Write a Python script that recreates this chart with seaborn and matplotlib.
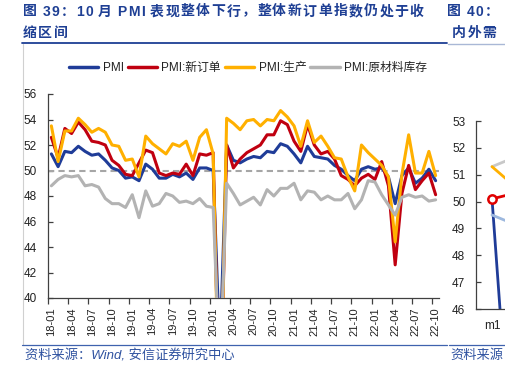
import matplotlib
matplotlib.use("Agg")
import matplotlib.pyplot as plt
from matplotlib.lines import Line2D
import seaborn as sns
import pandas as pd
import numpy as np

# ---------------- data ----------------
months = [f"{y:02d}-{m:02d}" for y in range(18, 23) for m in range(1, 13)][:58]

pmi = [51.3, 50.3, 51.5, 51.4, 51.9, 51.5, 51.2, 51.3, 50.8, 50.2, 50.0, 49.4,
       49.5, 49.2, 50.5, 50.1, 49.4, 49.4, 49.7, 49.5, 49.8, 49.3, 50.2, 50.2,
       50.0, 35.7, 52.0, 50.8, 50.6, 50.9, 51.1, 51.0, 51.5, 51.4, 52.1, 51.9,
       51.3, 50.6, 51.9, 51.1, 51.0, 50.9, 50.4, 50.1, 49.6, 49.2, 50.1, 50.3,
       50.1, 50.2, 49.5, 47.4, 49.6, 50.2, 49.0, 49.4, 50.1, 49.2]
new_orders = [52.6, 51.0, 53.3, 52.9, 53.8, 53.2, 52.3, 52.2, 52.0, 50.8, 50.4, 49.7,
              49.6, 50.6, 51.6, 51.4, 49.8, 49.6, 49.8, 49.7, 50.5, 49.6, 51.3, 51.2,
              51.4, 29.3, 52.0, 50.2, 50.9, 51.4, 51.7, 52.0, 52.8, 52.8, 53.9, 53.6,
              52.3, 51.5, 53.6, 52.0, 51.3, 51.5, 50.9, 49.6, 49.3, 48.8, 49.4, 49.7,
              49.3, 50.7, 48.8, 42.6, 48.2, 50.4, 48.5, 49.2, 49.8, 48.1]
production = [53.5, 50.7, 53.1, 53.1, 54.1, 53.6, 53.0, 53.3, 53.0, 52.0, 51.9, 50.8,
              50.9, 49.5, 52.7, 52.1, 51.7, 51.3, 52.1, 51.9, 52.3, 50.8, 52.6, 53.2,
              51.3, 27.8, 54.1, 53.7, 53.2, 53.9, 54.0, 53.5, 54.0, 53.9, 54.7, 54.2,
              53.5, 51.9, 53.9, 52.2, 52.7, 51.9, 51.0, 50.9, 49.5, 48.4, 52.0, 51.4,
              50.9, 50.4, 49.5, 44.4, 49.7, 52.8, 49.8, 49.8, 51.5, 49.6]
raw_inventory = [48.8, 49.3, 49.6, 49.5, 49.6, 48.8, 48.9, 48.7, 47.8, 47.4, 47.4, 47.1,
                 48.1, 46.3, 48.4, 47.2, 47.4, 48.2, 48.0, 47.5, 47.6, 47.4, 47.8, 47.2,
                 47.1, 33.9, 49.0, 48.2, 47.3, 47.6, 47.9, 47.3, 48.5, 48.0, 48.6, 48.6,
                 49.0, 47.7, 48.4, 48.3, 47.7, 48.0, 47.7, 47.7, 48.2, 47.0, 47.7, 49.2,
                 49.1, 48.1, 47.3, 46.5, 47.9, 48.1, 47.9, 48.0, 47.6, 47.7]
series_names = ["PMI", "PMI:新订单", "PMI:生产", "PMI:原材料库存"]
series_colors = ["#1F3C98", "#C00010", "#FFB000", "#B3B3B3"]

# partial right-hand chart (only its first points are visible)
right_cats = ["m1", "m2"]
right_names = ["a", "b", "c", "d", "e"]
right_vals = [[51.3, 51.8], [51.3, 50.25], [50.1, 50.4], [50.1, 33.4], [49.5, 49.0]]
right_colors = ["#C8C8C8", "#FFB000", "#E00000", "#1F3C98", "#9DB8DE"]

# ---------------- style ----------------
sns.set_theme(style="white")
plt.rcParams["font.family"] = ["Liberation Sans", "Noto Sans CJK SC", "DejaVu Sans"]
plt.rcParams["axes.unicode_minus"] = False

W, H = 505, 366
fig = plt.figure(figsize=(W / 100, H / 100), dpi=100)
fig.patch.set_facecolor("white")

def fx(px):
    return px / W

def fy(py):
    return 1 - py / H

# ---------------- main chart ----------------
ax = fig.add_axes([fx(48), fy(298), fx(439) - fx(48), fy(94) - fy(298)])
df = pd.DataFrame({
    "idx": np.tile(np.arange(len(months)), 4),
    "value": pmi + new_orders + production + raw_inventory,
    "series": np.repeat(series_names, len(months)),
})
ax.axhline(50, color="#A6A6A6", lw=1.5, ls=(0, (3, 2)), zorder=1)
sns.lineplot(data=df, x="idx", y="value", hue="series", hue_order=series_names,
             palette=dict(zip(series_names, series_colors)), linewidth=2.2,
             ax=ax, legend=True, sort=False, zorder=3)

ax.set_xlim(-0.5, len(months) - 0.5)
ax.set_ylim(40, 56)
ax.set_yticks(np.arange(40, 57, 2))
ax.set_xticks(np.arange(0, len(months), 3))
ax.set_xticklabels([months[i] for i in range(0, len(months), 3)], rotation=90)
ax.set_xticks(np.arange(-0.5, len(months), 3), minor=True)
ax.set_xlabel("")
ax.set_ylabel("")
for s in ["top", "right"]:
    ax.spines[s].set_visible(False)
for s in ["left", "bottom"]:
    ax.spines[s].set_color("#404040")
    ax.spines[s].set_linewidth(0.9)
ax.tick_params(axis="y", direction="in", length=3.5, width=0.9, color="#404040",
               labelsize=8.5, pad=8, labelcolor="#222222", left=True)
ax.tick_params(axis="x", which="major", length=0, labelsize=8, pad=6.5,
               labelcolor="#222222")
ax.tick_params(axis="x", which="minor", direction="out", length=4, width=0.9,
               color="#404040", bottom=True)
ax.set_facecolor("none")

handles, labels = ax.get_legend_handles_labels()
if ax.legend_:
    ax.legend_.remove()
leg = ax.legend(handles, labels, ncol=4, loc="center",
                bbox_to_anchor=(fx(248), fy(68)), bbox_transform=fig.transFigure,
                frameon=False, fontsize=8.5, handlelength=2.5, handletextpad=0.35,
                columnspacing=0.35, borderaxespad=0)
for h in leg.legend_handles:
    h.set_linewidth(2.5)
for t in leg.get_texts():
    t.set_color("#222222")

# ---------------- right partial chart ----------------
ax2 = fig.add_axes([fx(475.7), fy(309), 195.6 / W, fy(121) - fy(309)])
df2 = pd.DataFrame({
    "idx": np.tile(np.arange(len(right_cats)), len(right_names)),
    "value": sum(right_vals, []),
    "series": np.repeat(right_names, len(right_cats)),
})
sns.lineplot(data=df2, x="idx", y="value", hue="series", hue_order=right_names,
             palette=dict(zip(right_names, right_colors)), linewidth=2.0,
             ax=ax2, legend=False, sort=False)
ax2.plot([0], [right_vals[2][0]], marker="o", ms=6, mfc="white", mec="#E00000",
         mew=1.8, ls="none", zorder=5)
ax2.set_xlim(-0.5, 5.5)
ax2.set_ylim(46, 53)
ax2.set_yticks(np.arange(46, 54, 1))
ax2.set_xticks([0])
ax2.set_xticklabels(right_cats[:1])
ax2.set_xlabel("")
ax2.set_ylabel("")
for s in ["top", "right"]:
    ax2.spines[s].set_visible(False)
for s in ["left", "bottom"]:
    ax2.spines[s].set_color("#404040")
    ax2.spines[s].set_linewidth(0.9)
ax2.tick_params(axis="y", direction="in", length=3.5, width=0.9, color="#404040",
                labelsize=8.5, pad=7.5, labelcolor="#222222", left=True)
ax2.tick_params(axis="x", length=0, labelsize=8.5, pad=8, labelcolor="#222222")
ax2.set_facecolor("none")

# ---------------- page decorations ----------------
title_color = "#1E3F94"
renderer = fig.canvas.get_renderer()

def spaced(x_px, y_px, s, extra_px, **kw):
    x = x_px
    for ch in s:
        if ch == " ":
            x += 4
            continue
        t = fig.text(fx(x), fy(y_px), ch, ha="left", va="center", **kw)
        bb = t.get_window_extent(renderer)
        x += bb.width + extra_px
    return x

tkw = dict(fontsize=10, fontweight="bold", color=title_color)
spaced(23, 11.5, "图 39：10 月 PMI 表现整体下行，整体新订单指数仍处于收", 1.4, **tkw)
spaced(447, 11.5, "图 40：", 1.4, **tkw)
spaced(23, 32.5, "缩区间", 1.4, **tkw)
spaced(452, 32.5, "内外需", 1.4, **tkw)

fig.add_artist(Line2D([fx(22), fx(447)], [fy(43), fy(43)], color="#1E3F94", lw=1.3))
fig.add_artist(Line2D([fx(448), fx(505)], [fy(43.5), fy(43.5)], color="#A9B8D6", lw=1.0))
fig.add_artist(Line2D([fx(22.5), fx(22.5)], [fy(44), fy(345)], color="#D0D0D0", lw=0.8))
fig.add_artist(Line2D([fx(22), fx(447)], [fy(345), fy(345)], color="#3F62AE", lw=0.9))
fig.add_artist(Line2D([fx(449), fx(505)], [fy(345), fy(345)], color="#3F62AE", lw=0.9))

fig.text(fx(25), fy(356), "资料来源：Wind, 安信证券研究中心", ha="left", va="center",
         fontsize=9.5, style="italic", color="#2F52A0")
fig.text(fx(450), fy(356), "资料来源", ha="left", va="center",
         fontsize=9.5, style="italic", color="#2F52A0")

fig.savefig("out.png", dpi=100, facecolor="white")
